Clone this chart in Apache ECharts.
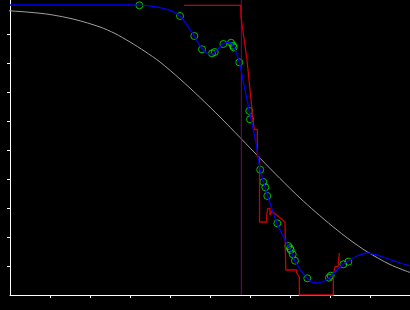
<!DOCTYPE html>
<html>
<head>
<meta charset="utf-8">
<script src="https://cdn.jsdelivr.net/npm/echarts@6/dist/echarts.min.js"></script>
<style>
html,body{margin:0;padding:0;background:#000;}
#c{width:410px;height:310px;}
</style>
</head>
<body>
<div id="c"></div>
<script>
// ---- data (data units) ----
const xTicks = [1,2,3,4,5,6,7,8,9];
const yTicks = [1,2,3,4,5,6,7,8,9];

const grayCurve = [[-0.25,9.828],[0,9.800],[0.5,9.748],[1.0,9.672],[1.625,9.500],[2.25,9.241],[2.625,9.017],[3.0,8.724],[3.375,8.397],[3.75,8.034],[4.25,7.448],[4.75,6.810],[5.25,6.138],[5.75,5.431],[6.05,5.0],[6.375,4.541],[6.75,4.017],[7.25,3.345],[7.625,2.879],[8.075,2.355],[8.5,1.897],[8.925,1.493],[9.5,1.052],[10,0.776]];

const thresholdX = 5.783;
const thresholdLine = [[thresholdX,0],[thresholdX,10.17]];

const redSteps = [[4.35,9.99],[5.768,9.99],[5.775,9.586],[5.925,8.103],[6.043,6.493],[6.058,6.172],[6.108,6.172],[6.108,5.714],[6.183,5.714],[6.183,4.759],[6.238,4.759],[6.238,2.517],[6.418,2.517],[6.418,2.759],[6.443,2.759],[6.443,2.990],[6.5,2.990],[6.5,2.759],[6.543,2.759],[6.543,2.897],[6.875,2.517],[6.893,0.862],[7.168,0.862],[7.168,0.759],[7.233,0.621],[7.233,0],[8.083,0],[8.083,0.690],[8.125,0.690],[8.125,0.976],[8.2,0.976],[8.233,1.448]];

const blueFit = [[0,10.0],[3,10.0],[3.233,9.99],[3.5,9.97],[3.825,9.886],[4.075,9.769],[4.25,9.621],[4.425,9.310],[4.608,8.931],[4.8,8.483],[4.95,8.328],[5.05,8.310],[5.125,8.379],[5.225,8.517],[5.325,8.655],[5.45,8.707],[5.525,8.690],[5.6,8.552],[5.733,8.034],[5.85,7.241],[5.983,6.345],[6.075,5.759],[6.15,5.241],[6.25,4.345],[6.375,3.724],[6.5,3.172],[6.675,2.483],[6.875,1.897],[7.0,1.586],[7.125,1.172],[7.275,0.828],[7.425,0.586],[7.625,0.414],[7.8,0.448],[7.975,0.586],[8.15,0.828],[8.325,1.052],[8.45,1.155],[8.675,1.345],[8.925,1.448],[9.325,1.310],[9.675,1.138],[10,1.0]];

const samples = [[3.233,9.99],[4.25,9.621],[4.608,8.931],[4.8,8.472],[5.05,8.334],[5.118,8.379],[5.333,8.655],[5.525,8.700],[5.575,8.597],[5.593,8.541],[5.733,8.024],[5.983,6.345],[6.0,6.059],[6.255,4.321],[6.333,3.897],[6.383,3.714],[6.433,3.414],[6.683,2.472],[6.958,1.690],[7.0,1.610],[7.018,1.552],[7.068,1.403],[7.125,1.183],[7.433,0.576],[7.975,0.597],[8.018,0.666],[8.333,1.059],[8.458,1.148]];

const chart = echarts.init(document.getElementById('c'), null, {renderer:'canvas'});
const axisCommon = {
  axisLine:{show:true, onZero:false, lineStyle:{color:'#ffffff', width:1}},
  axisTick:{show:true, length:3, inside:false, lineStyle:{color:'#ffffff', width:1}},
  axisLabel:{show:false},
  splitLine:{show:false}
};
chart.setOption({
  backgroundColor:'#000000',
  animation:false,
  grid:{left:10, right:0, top:0, bottom:15, containLabel:false},
  xAxis:Object.assign({}, axisCommon, {type:'value', min:0, max:10, interval:1,
    axisTick:Object.assign({}, axisCommon.axisTick, {customValues:xTicks})}),
  yAxis:Object.assign({}, axisCommon, {type:'value', min:0, max:295/29, interval:1,
    axisTick:Object.assign({}, axisCommon.axisTick, {customValues:yTicks})}),
  series:[
    {type:'line', data:grayCurve, smooth:0.3, showSymbol:false, clip:false,
     lineStyle:{color:'#a0a0a0', width:1}},
    {type:'line', data:thresholdLine, showSymbol:false, clip:false,
     lineStyle:{color:'#7a007a', width:1}},
    {type:'line', data:redSteps, showSymbol:false, clip:false,
     lineStyle:{color:'#cc0000', width:1.3}},
    {type:'line', data:blueFit, smooth:0.35, showSymbol:false, clip:false,
     lineStyle:{color:'#0000ee', width:1.3}},
    {type:'scatter', data:samples, symbol:'circle', symbolSize:7, clip:false,
     itemStyle:{color:'rgba(0,0,0,0)', borderColor:'#00ee00', borderWidth:1}}
  ]
});
</script>
</body>
</html>
